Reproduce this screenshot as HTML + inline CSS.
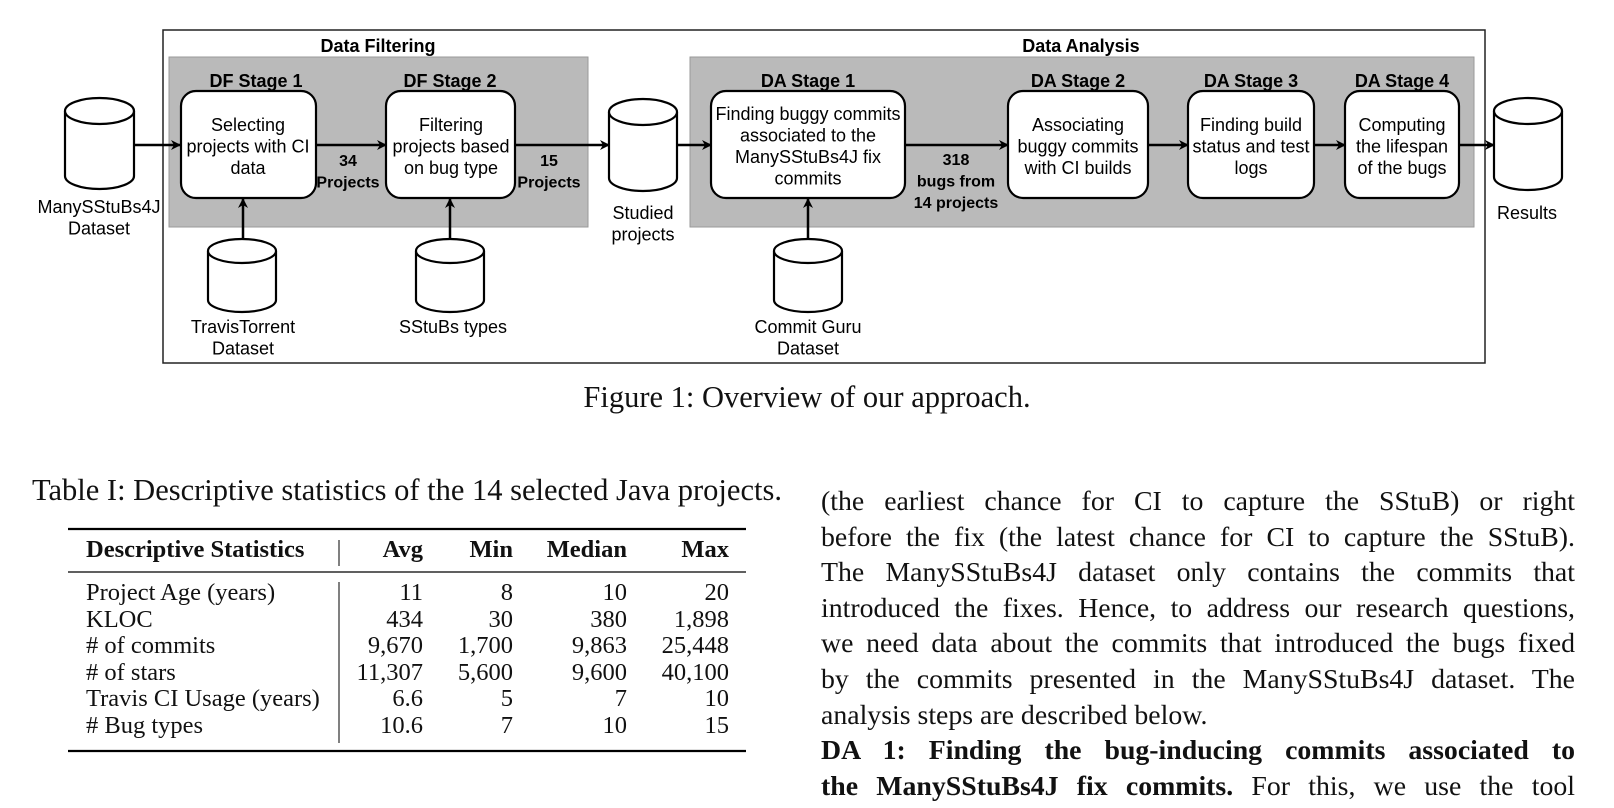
<!DOCTYPE html>
<html><head><meta charset="utf-8"><style>
body{margin:0;background:#fff;width:1614px;height:808px;overflow:hidden;position:relative;font-family:"Liberation Serif",serif;color:#111}
svg{position:absolute;left:0;top:0}
.cap{position:absolute;font-size:30.5px;white-space:nowrap}
.para{position:absolute;left:821px;width:754px;font-size:27.8px;line-height:35.6px;top:484px}
.ln{text-align:justify;text-align-last:justify;white-space:nowrap;height:35.6px}
.ln.last{text-align-last:left}
</style></head><body>
<svg width="1614" height="808" font-family="Liberation Sans, sans-serif">
<defs><marker id="ah" markerWidth="10" markerHeight="10" refX="9" refY="5" orient="auto" markerUnits="userSpaceOnUse"><path d="M0,0 L10,5 L0,10 L3,5 z" fill="#000"/></marker></defs>
<rect x="163" y="30" width="1322" height="333" fill="#fff" stroke="#222" stroke-width="1.5"/>
<text x="378" y="52" font-size="18" font-weight="bold" text-anchor="middle">Data Filtering</text>
<text x="1081" y="52" font-size="18" font-weight="bold" text-anchor="middle">Data Analysis</text>
<rect x="169" y="57" width="419" height="170" fill="#bababa" stroke="#999" stroke-width="1"/>
<rect x="690" y="57" width="784" height="170" fill="#bababa" stroke="#999" stroke-width="1"/>
<g font-size="18" font-weight="bold" text-anchor="middle">
<text x="256" y="87">DF Stage 1</text>
<text x="450" y="87">DF Stage 2</text>
<text x="808" y="87">DA Stage 1</text>
<text x="1078" y="87">DA Stage 2</text>
<text x="1251" y="87">DA Stage 3</text>
<text x="1402" y="87">DA Stage 4</text>
</g>
<g stroke="#000" stroke-width="2.5" fill="none" marker-end="url(#ah)">
<line x1="134" y1="145" x2="180" y2="145"/><line x1="316" y1="145" x2="386" y2="145"/>
<line x1="515" y1="145" x2="609" y2="145"/><line x1="677" y1="145" x2="711" y2="145"/>
<line x1="905" y1="145" x2="1008" y2="145"/><line x1="1148" y1="145" x2="1188" y2="145"/>
<line x1="1314" y1="145" x2="1345" y2="145"/><line x1="1459" y1="145" x2="1494" y2="145"/>
<line x1="243" y1="239" x2="243" y2="199"/><line x1="450" y1="239" x2="450" y2="199"/><line x1="808" y1="239" x2="808" y2="199"/>
</g>
<g fill="#fff" stroke="#000" stroke-width="2.2">
<rect x="181" y="91" width="135" height="107" rx="15"/>
<rect x="386" y="91" width="129" height="107" rx="15"/>
<rect x="711" y="91" width="194" height="107" rx="15"/>
<rect x="1008" y="91" width="140" height="107" rx="15"/>
<rect x="1188" y="91" width="126" height="107" rx="15"/>
<rect x="1345" y="91" width="114" height="107" rx="15"/>
</g>
<g fill="#fff" stroke="#000" stroke-width="2.2">
<g><path d="M65,111 V176 A34.5,13 0 0 0 134,176 V111"/><ellipse cx="99.5" cy="111" rx="34.5" ry="13"/></g>
<g><path d="M609,112 V178 A34,13 0 0 0 677,178 V112"/><ellipse cx="643" cy="112" rx="34" ry="13"/></g>
<g><path d="M1494,111 V177 A34,13 0 0 0 1562,177 V111"/><ellipse cx="1528" cy="111" rx="34" ry="13"/></g>
<g><path d="M208,251 V300 A34,12 0 0 0 276,300 V251"/><ellipse cx="242" cy="251" rx="34" ry="12"/></g>
<g><path d="M416,251 V300 A34,12 0 0 0 484,300 V251"/><ellipse cx="450" cy="251" rx="34" ry="12"/></g>
<g><path d="M774,251 V300 A34,12 0 0 0 842,300 V251"/><ellipse cx="808" cy="251" rx="34" ry="12"/></g>
</g>
<g font-size="18" text-anchor="middle">
<text x="248" y="131">Selecting<tspan x="248" dy="21.5">projects with CI</tspan><tspan x="248" dy="21.5">data</tspan></text>
<text x="451" y="131">Filtering<tspan x="451" dy="21.5">projects based</tspan><tspan x="451" dy="21.5">on bug type</tspan></text>
<text x="808" y="120">Finding buggy commits<tspan x="808" dy="21.5">associated to the</tspan><tspan x="808" dy="21.5">ManySStuBs4J fix</tspan><tspan x="808" dy="21.5">commits</tspan></text>
<text x="1078" y="131">Associating<tspan x="1078" dy="21.5">buggy commits</tspan><tspan x="1078" dy="21.5">with CI builds</tspan></text>
<text x="1251" y="131">Finding build<tspan x="1251" dy="21.5">status and test</tspan><tspan x="1251" dy="21.5">logs</tspan></text>
<text x="1402" y="131">Computing<tspan x="1402" dy="21.5">the lifespan</tspan><tspan x="1402" dy="21.5">of the bugs</tspan></text>
<text x="99" y="213">ManySStuBs4J<tspan x="99" dy="21.5">Dataset</tspan></text>
<text x="643" y="219">Studied<tspan x="643" dy="21.5">projects</tspan></text>
<text x="1527" y="219">Results</text>
<text x="243" y="333">TravisTorrent<tspan x="243" dy="21.5">Dataset</tspan></text>
<text x="453" y="333">SStuBs types</text>
<text x="808" y="333">Commit Guru<tspan x="808" dy="21.5">Dataset</tspan></text>
</g>
<g font-size="16" font-weight="bold" text-anchor="middle">
<text x="348" y="166">34<tspan x="348" dy="21.5">Projects</tspan></text>
<text x="549" y="166">15<tspan x="549" dy="21.5">Projects</tspan></text>
<text x="956" y="165">318<tspan x="956" dy="21.5">bugs from</tspan><tspan x="956" dy="21.5">14 projects</tspan></text>
</g>
<g stroke="#000">
<line x1="68" y1="529" x2="746" y2="529" stroke-width="2.2"/>
<line x1="68" y1="572" x2="746" y2="572" stroke-width="1.2"/>
<line x1="68" y1="751" x2="746" y2="751" stroke-width="2.2"/>
<line x1="339" y1="540" x2="339" y2="566" stroke-width="1"/>
<line x1="339" y1="582" x2="339" y2="743" stroke-width="1"/>
</g>
</svg>
<div class="cap" style="left:0;width:1614px;text-align:center;top:380px">Figure 1: Overview of our approach.</div>
<div class="cap" style="left:32px;top:473px">Table I: Descriptive statistics of the 14 selected Java projects.</div>
<div style="position:absolute;left:0;top:0;width:1614px;font-size:24.5px">
<div style="position:absolute;top:536px;left:0;width:1614px;font-weight:bold">
<span style="position:absolute;left:86px;white-space:nowrap">Descriptive Statistics</span>
<span style="position:absolute;right:1191px">Avg</span><span style="position:absolute;right:1101px">Min</span><span style="position:absolute;right:987px">Median</span><span style="position:absolute;right:885px">Max</span></div>
</div>
<div id="rows"></div>
<script>
const rowLabels=["Project Age (years)","KLOC","# of commits","# of stars","Travis CI Usage (years)","# Bug types"];
const avgVals=["11","434","9,670","11,307","6.6","10.6"];
const minVals=["8","30","1,700","5,600","5","7"];
const medianVals=["10","380","9,863","9,600","7","10"];
const maxVals=["20","1,898","25,448","40,100","10","15"];
const body=document.getElementById('rows');
const cols=[[avgVals,423],[minVals,513],[medianVals,627],[maxVals,729]];
rowLabels.forEach((lab,i)=>{
  const y=579+i*26.6;
  const l=document.createElement('div');
  
  
  l.style.cssText='position:absolute;left:86px;top:'+y+'px;font-size:24.5px;white-space:nowrap';
  l.textContent=lab;body.appendChild(l);
  cols.forEach(([arr,r])=>{
    const c=document.createElement('div');
    
    
    c.style.cssText='position:absolute;right:'+(1614-r)+'px;top:'+y+'px;font-size:24.5px;white-space:nowrap';
    c.textContent=arr[i];body.appendChild(c);
  });
});
</script>
<div class="para">
<div class="ln">(the earliest chance for CI to capture the SStuB) or right</div>
<div class="ln">before the fix (the latest chance for CI to capture the SStuB).</div>
<div class="ln">The ManySStuBs4J dataset only contains the commits that</div>
<div class="ln">introduced the fixes. Hence, to address our research questions,</div>
<div class="ln">we need data about the commits that introduced the bugs fixed</div>
<div class="ln">by the commits presented in the ManySStuBs4J dataset. The</div>
<div class="ln last">analysis steps are described below.</div>
<div class="ln"><b>DA 1: Finding the bug-inducing commits associated to</b></div>
<div class="ln"><b>the ManySStuBs4J fix commits.</b> For this, we use the tool</div>
</div>
</body></html>
